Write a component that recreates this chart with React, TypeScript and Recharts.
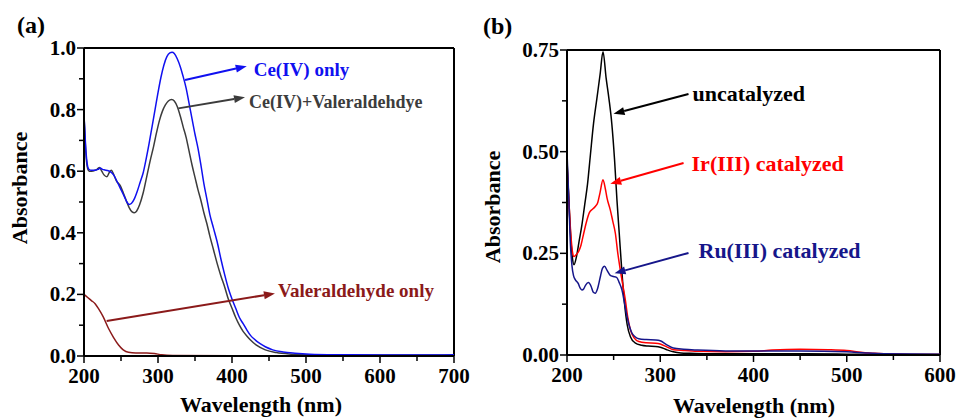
import React from 'react';
import { LineChart, Line, XAxis, YAxis, ReferenceLine } from 'recharts';

const FONT = '"Liberation Serif", "Times New Roman", Times, serif';

// ---------------- Panel (a) ----------------
const aXTicks = [200, 250, 300, 350, 400, 450, 500, 550, 600, 650, 700];
const aYTicks = [0, 0.1, 0.2, 0.3, 0.4, 0.5, 0.6, 0.7, 0.8, 0.9, 1.0];

const ceOnlyWl = [200, 201, 202, 203.5, 205, 207, 210, 215, 219, 222, 225, 228, 232, 236, 240, 245, 250, 255, 258, 261, 264, 268, 272, 276, 280, 284, 288, 292, 296, 300, 304, 308, 312, 316, 319, 322, 326, 330, 334, 338, 342, 346, 350, 354, 358, 362, 366, 370, 375, 380, 385, 390, 395, 400, 405, 410, 415, 420, 425, 430, 438, 445, 455, 469, 485, 505, 550, 600, 650, 700];
const ceOnlyAbs = [0.78, 0.74, 0.69, 0.64, 0.615, 0.605, 0.603, 0.603, 0.606, 0.61, 0.606, 0.604, 0.602, 0.598, 0.588, 0.565, 0.54, 0.515, 0.5, 0.492, 0.495, 0.51, 0.535, 0.565, 0.595, 0.64, 0.69, 0.745, 0.8, 0.855, 0.905, 0.945, 0.972, 0.984, 0.986, 0.982, 0.965, 0.94, 0.907, 0.87, 0.82, 0.77, 0.72, 0.675, 0.62, 0.56, 0.51, 0.46, 0.415, 0.37, 0.315, 0.265, 0.22, 0.185, 0.155, 0.125, 0.105, 0.085, 0.067, 0.055, 0.04, 0.03, 0.02, 0.013, 0.009, 0.006, 0.004, 0.003, 0.003, 0.004];

const ceValWl = [200, 201, 202, 203.5, 205, 207, 210, 215, 218, 221, 224, 227, 231, 234, 237, 240, 244, 249, 253, 257, 261, 265, 268, 271, 275, 280, 285, 290, 294, 298, 302, 306, 310, 314, 318.5, 322, 326, 330, 334, 338, 342, 346, 350, 354, 358, 362, 366, 370, 375, 380, 385, 390, 395, 400, 405, 410, 415, 420, 425, 433, 445, 460, 480, 500, 550, 600, 650, 700];
const ceValAbs = [0.78, 0.73, 0.68, 0.63, 0.608, 0.6, 0.6, 0.603, 0.607, 0.612, 0.6, 0.588, 0.582, 0.595, 0.603, 0.59, 0.568, 0.553, 0.53, 0.505, 0.482, 0.468, 0.465, 0.47, 0.49, 0.53, 0.585, 0.64, 0.68, 0.725, 0.765, 0.795, 0.815, 0.828, 0.833, 0.828, 0.81, 0.78, 0.744, 0.71, 0.665, 0.62, 0.58, 0.54, 0.505, 0.465, 0.43, 0.39, 0.345, 0.3, 0.26, 0.225, 0.185, 0.155, 0.125, 0.1, 0.08, 0.065, 0.052, 0.035, 0.02, 0.011, 0.006, 0.004, 0.003, 0.003, 0.003, 0.003];

const valOnlyWl = [200, 205, 210, 215, 220, 226, 233, 240, 247, 253, 260, 270, 285, 295, 305, 320, 400, 500, 600, 700];
const valOnlyAbs = [0.2, 0.19, 0.18, 0.17, 0.152, 0.127, 0.09, 0.06, 0.035, 0.02, 0.012, 0.01, 0.01, 0.008, 0.004, 0.002, 0.001, 0.001, 0.001, 0.001];

// ---------------- Panel (b) ----------------
const bXTicks = [200, 250, 300, 350, 400, 450, 500, 550, 600];
const bYTicks = [0, 0.125, 0.25, 0.375, 0.5, 0.625, 0.75];

const uncatWl = [200, 202, 204, 206, 207.5, 210, 213, 216, 219, 222, 225, 228.5, 232, 235.5, 238.6, 242, 245, 248, 251, 253.6, 256, 259, 262, 264.5, 268, 273, 280, 287, 295, 300, 307, 314, 322, 332, 350, 400, 450, 500, 550, 600];
const uncatAbs = [0.48, 0.38, 0.29, 0.235, 0.222, 0.24, 0.28, 0.32, 0.37, 0.42, 0.49, 0.57, 0.63, 0.69, 0.746, 0.68, 0.63, 0.57, 0.48, 0.38, 0.3, 0.2, 0.12, 0.075, 0.045, 0.03, 0.024, 0.022, 0.021, 0.019, 0.013, 0.008, 0.005, 0.004, 0.003, 0.003, 0.003, 0.002, 0.001, 0.001];

const irWl = [200, 202, 204, 206, 207.5, 210, 212.5, 215, 218, 221.4, 224, 227, 230.3, 233, 235.5, 238.6, 241, 243, 246.4, 249, 251.8, 254.5, 257.1, 260, 262.5, 265, 268, 272, 277, 285, 295, 300, 307, 314, 325, 340, 370, 400, 420, 450, 480, 500, 515, 530, 560, 600];
const irAbs = [0.47, 0.38, 0.3, 0.252, 0.242, 0.247, 0.255, 0.27, 0.3, 0.332, 0.35, 0.358, 0.365, 0.375, 0.4, 0.431, 0.41, 0.385, 0.357, 0.33, 0.3, 0.25, 0.21, 0.17, 0.136, 0.095, 0.062, 0.042, 0.033, 0.03, 0.029, 0.027, 0.02, 0.013, 0.011, 0.009, 0.008, 0.009, 0.012, 0.014, 0.013, 0.011, 0.007, 0.004, 0.002, 0.001];

const ruWl = [200, 202, 203.5, 205.4, 207, 209, 212, 214, 216, 218, 220, 223, 226, 228, 230.3, 233, 236, 238, 240.3, 243, 246.4, 250, 253.6, 256, 258.9, 261.5, 264.3, 267, 269.6, 273, 277, 285, 295, 300, 307, 314, 325, 340, 370, 400, 450, 500, 520, 540, 600];
const ruAbs = [0.5, 0.38, 0.28, 0.218, 0.195, 0.185, 0.176, 0.165, 0.16, 0.163, 0.172, 0.178, 0.168, 0.155, 0.152, 0.165, 0.195, 0.213, 0.218, 0.208, 0.196, 0.193, 0.19, 0.178, 0.16, 0.13, 0.095, 0.07, 0.054, 0.045, 0.04, 0.038, 0.037, 0.035, 0.025, 0.017, 0.014, 0.012, 0.01, 0.01, 0.01, 0.008, 0.005, 0.003, 0.002];

const zip = (xs: number[], ys: number[]) => xs.map((x, i) => ({ x, y: ys[i] }));

// ---------------- helpers ----------------
const makeXTick = () => (props: any) => {
  const { x, y, payload } = props;
  const v = payload.value;
  const major = v % 100 === 0;
  return (
    <g>
      <line x1={x} y1={y} x2={x} y2={y + (major ? 7 : 5)} stroke="#000" strokeWidth={1.5} />
      {major && (
        <text x={x} y={y + 27} textAnchor="middle" fontFamily={FONT} fontWeight="bold" fontSize={21} fill="#000">
          {v}
        </text>
      )}
    </g>
  );
};

const makeYTick = (isMajor: (v: number) => boolean, fmt: (v: number) => string) => (props: any) => {
  const { x, y, payload } = props;
  const v = payload.value;
  const major = isMajor(v);
  return (
    <g>
      <line x1={x} y1={y} x2={x - (major ? 7 : 5)} y2={y} stroke="#000" strokeWidth={1.5} />
      {major && (
        <text x={x - 8} y={y + 7} textAnchor="end" fontFamily={FONT} fontWeight="bold" fontSize={21} fill="#000">
          {fmt(v)}
        </text>
      )}
    </g>
  );
};

const makeArrow = (text: string, color: string, fontSize: number, headAtText: boolean, dx: number, dy: number) => (props: any) => {
  const { x1, y1, x2, y2 } = props; // (x1,y1) on curve, (x2,y2) at text
  const hx = headAtText ? x2 : x1;
  const hy = headAtText ? y2 : y1;
  const tx = headAtText ? x1 : x2;
  const ty = headAtText ? y1 : y2;
  const ang = Math.atan2(hy - ty, hx - tx);
  const L = 11;
  const W = 4;
  const bx = hx - L * Math.cos(ang);
  const by = hy - L * Math.sin(ang);
  const px = -Math.sin(ang) * W;
  const py = Math.cos(ang) * W;
  return (
    <g>
      <line x1={tx} y1={ty} x2={bx} y2={by} stroke={color} strokeWidth={2} />
      <polygon points={`${hx},${hy} ${bx + px},${by + py} ${bx - px},${by - py}`} fill={color} />
      <text x={x2 + dx} y={y2 + dy} fontFamily={FONT} fontWeight="bold" fontSize={fontSize} fill={color}>
        {text}
      </text>
    </g>
  );
};

const axisLine = { stroke: '#000', strokeWidth: 2 };

function PanelA() {
  return (
    <LineChart width={480} height={419} margin={{ top: 48, right: 26, bottom: 0, left: 0 }}>
      <XAxis
        xAxisId={0}
        type="number"
        dataKey="x"
        domain={[200, 700]}
        ticks={aXTicks}
        interval={0}
        allowDataOverflow
        height={63}
        tickSize={0}
        tickMargin={0}
        tickLine={false}
        axisLine={axisLine}
        tick={makeXTick()}
        label={() => (
          <text x={261} y={412} textAnchor="middle" fontFamily={FONT} fontWeight="bold" fontSize={22} fill="#000">
            Wavelength (nm)
          </text>
        )}
      />
      <YAxis
        yAxisId={0}
        type="number"
        domain={[0, 1]}
        ticks={aYTicks}
        interval={0}
        allowDataOverflow
        width={84}
        tickSize={0}
        tickMargin={0}
        tickLine={false}
        axisLine={axisLine}
        tick={makeYTick((v) => Math.round(v * 10) % 2 === 0, (v) => v.toFixed(1))}
        label={() => (
          <g>
            <text x={27} y={188} transform="rotate(-90 27 188)" textAnchor="middle" fontFamily={FONT} fontWeight="bold" fontSize={22} fill="#000">
              Absorbance
            </text>
            <text x={17} y={33} fontFamily={FONT} fontWeight="bold" fontSize={24} fill="#000">
              (a)
            </text>
          </g>
        )}
      />
      <ReferenceLine y={1} stroke="#000" strokeWidth={2} />
      <ReferenceLine x={700} stroke="#000" strokeWidth={2} />
      <Line data={zip(valOnlyWl, valOnlyAbs)} dataKey="y" type="monotone" stroke="#8b1a1a" strokeWidth={1.5} dot={false} isAnimationActive={false} />
      <Line data={zip(ceValWl, ceValAbs)} dataKey="y" type="monotone" stroke="#3c3c3c" strokeWidth={1.5} dot={false} isAnimationActive={false} />
      <Line data={zip(ceOnlyWl, ceOnlyAbs)} dataKey="y" type="monotone" stroke="#1010f0" strokeWidth={1.5} dot={false} isAnimationActive={false} />
      <ReferenceLine segment={[{ x: 336.5, y: 0.896 }, { x: 419.9, y: 0.941 }]} shape={makeArrow('Ce(IV) only', '#1010f0', 19, true, 7, 10)} />
      <ReferenceLine segment={[{ x: 327.5, y: 0.804 }, { x: 417.6, y: 0.84 }]} shape={makeArrow('Ce(IV)+Valeraldehdye', '#3c3c3c', 18, true, 4, 11)} />
      <ReferenceLine segment={[{ x: 230.6, y: 0.114 }, { x: 458, y: 0.203 }]} shape={makeArrow('Valeraldehyde only', '#8b1a1a', 19, true, 3, 4)} />
    </LineChart>
  );
}

function PanelB() {
  return (
    <LineChart width={477} height={419} margin={{ top: 50, right: 17, bottom: 0, left: 0 }}>
      <XAxis
        xAxisId={0}
        type="number"
        dataKey="x"
        domain={[200, 600]}
        ticks={bXTicks}
        interval={0}
        allowDataOverflow
        height={64}
        tickSize={0}
        tickMargin={0}
        tickLine={false}
        axisLine={axisLine}
        tick={makeXTick()}
        label={() => (
          <text x={274} y={413} textAnchor="middle" fontFamily={FONT} fontWeight="bold" fontSize={22} fill="#000">
            Wavelength (nm)
          </text>
        )}
      />
      <YAxis
        yAxisId={0}
        type="number"
        domain={[0, 0.75]}
        ticks={bYTicks}
        interval={0}
        allowDataOverflow
        width={87}
        tickSize={0}
        tickMargin={0}
        tickLine={false}
        axisLine={axisLine}
        tick={makeYTick((v) => Math.round(v / 0.125) % 2 === 0, (v) => v.toFixed(2))}
        label={() => (
          <g>
            <text x={20} y={207} transform="rotate(-90 20 207)" textAnchor="middle" fontFamily={FONT} fontWeight="bold" fontSize={22} fill="#000">
              Absorbance
            </text>
            <text x={3} y={34} fontFamily={FONT} fontWeight="bold" fontSize={24} fill="#000">
              (b)
            </text>
          </g>
        )}
      />
      <ReferenceLine y={0.75} stroke="#000" strokeWidth={2} />
      <ReferenceLine x={600} stroke="#000" strokeWidth={2} />
      <Line data={zip(uncatWl, uncatAbs)} dataKey="y" type="monotone" stroke="#000000" strokeWidth={1.5} dot={false} isAnimationActive={false} />
      <Line data={zip(irWl, irAbs)} dataKey="y" type="monotone" stroke="#ff0000" strokeWidth={1.5} dot={false} isAnimationActive={false} />
      <Line data={zip(ruWl, ruAbs)} dataKey="y" type="monotone" stroke="#16168a" strokeWidth={1.5} dot={false} isAnimationActive={false} />
      <ReferenceLine segment={[{ x: 249.9, y: 0.593 }, { x: 330.3, y: 0.642 }]} shape={makeArrow('uncatalyzed', '#000000', 22, false, 4, 7)} />
      <ReferenceLine segment={[{ x: 246.4, y: 0.421 }, { x: 325, y: 0.472 }]} shape={makeArrow('Ir(III) catalyzed', '#ff0000', 22, false, 8, 8)} />
      <ReferenceLine segment={[{ x: 251, y: 0.201 }, { x: 330.3, y: 0.251 }]} shape={makeArrow('Ru(III) catalyzed', '#16168a', 22, false, 10, 5)} />
    </LineChart>
  );
}

export default function App() {
  return (
    <div style={{ position: 'absolute', left: 0, top: 0, width: 957, height: 419, background: '#fff', overflow: 'hidden' }}>
      <div style={{ position: 'absolute', left: 0, top: 0 }}>
        <PanelA />
      </div>
      <div style={{ position: 'absolute', left: 480, top: 0 }}>
        <PanelB />
      </div>
    </div>
  );
}
